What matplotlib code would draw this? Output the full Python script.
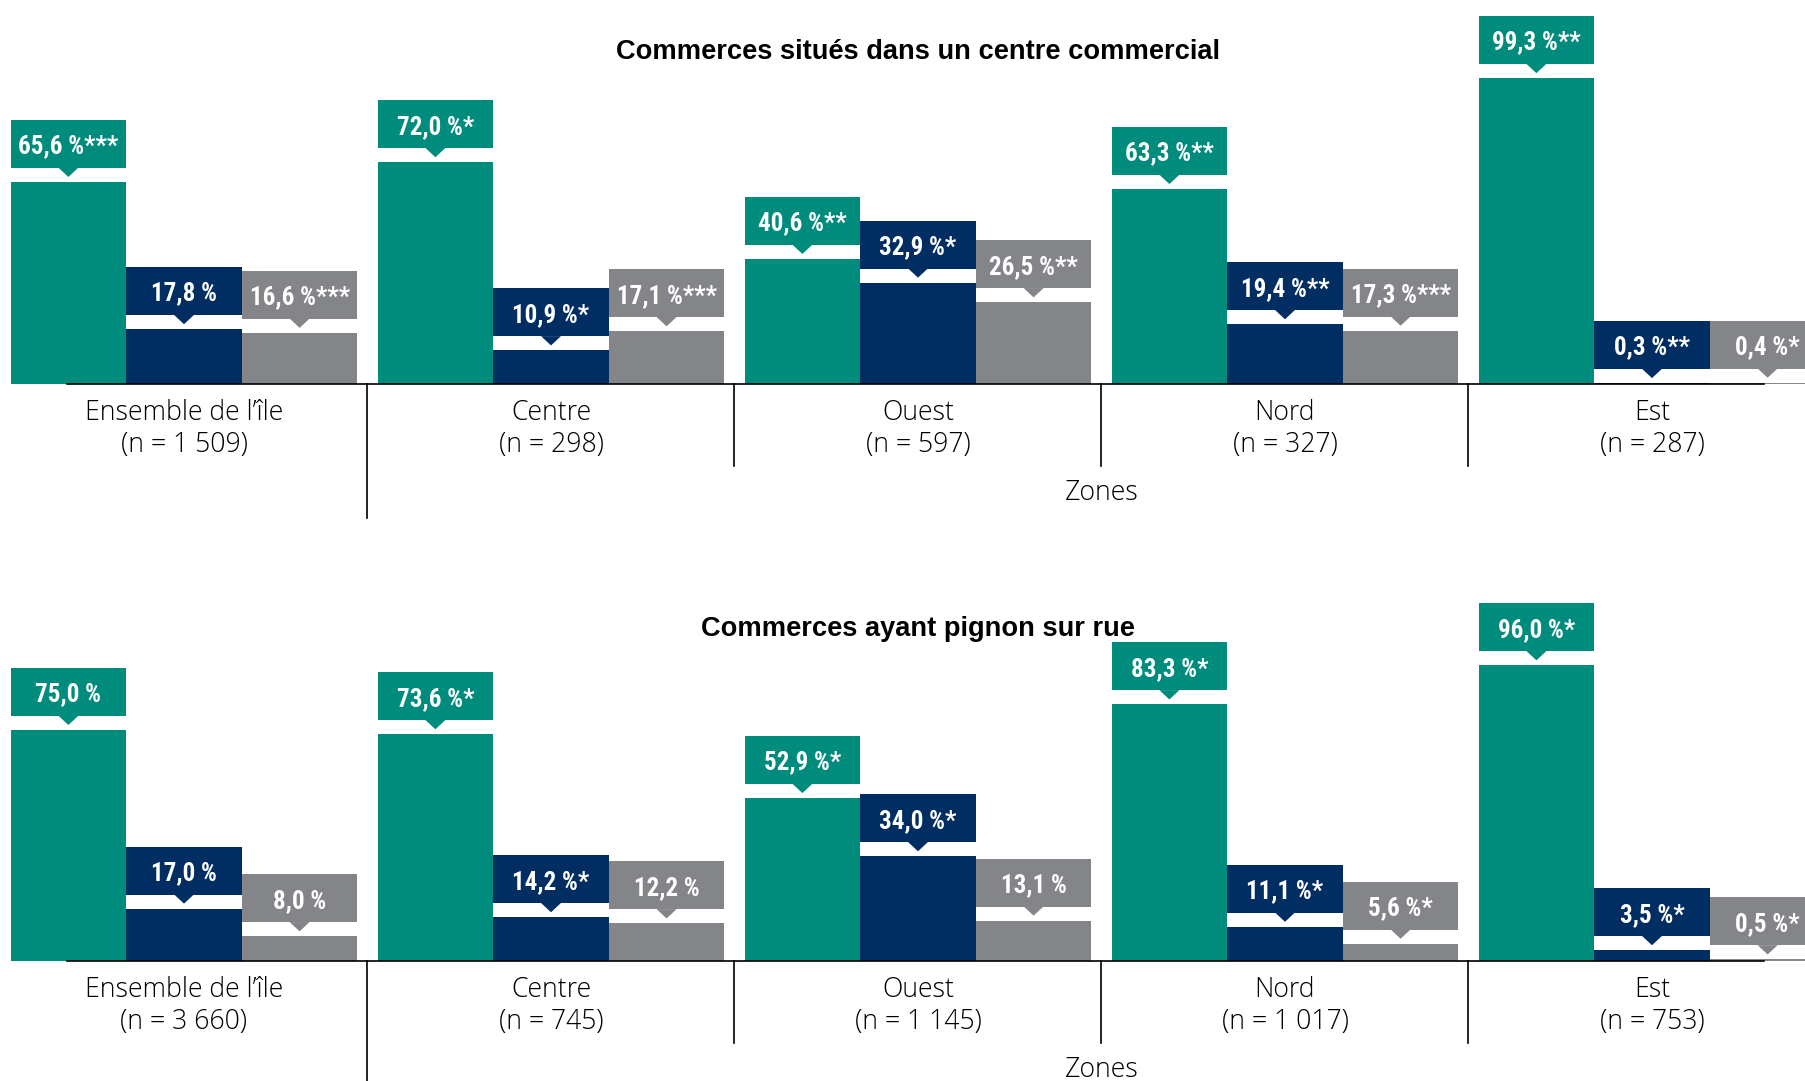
import numpy as np
import matplotlib
matplotlib.use('Agg')
import matplotlib.pyplot as plt
from matplotlib import font_manager
from matplotlib.patches import Rectangle, Polygon

# data
zones = ['Ensemble de l\u2019\u00eele', 'Centre', 'Ouest', 'Nord', 'Est']
colors = ['#008C7D', '#002D62', '#838589']

mall_title = 'Commerces situés dans un centre commercial'
mall_n = ['1 509', '298', '597', '327', '287']
mall_green = [65.6, 72.0, 40.6, 63.3, 99.3]
mall_navy = [17.8, 10.9, 32.9, 19.4, 0.3]
mall_grey = [16.6, 17.1, 26.5, 17.3, 0.4]
mall_stars = [['***', '*', '**', '**', '**'],
              ['', '*', '*', '**', '**'],
              ['***', '***', '**', '***', '*']]

street_title = 'Commerces ayant pignon sur rue'
street_n = ['3 660', '745', '1 145', '1 017', '753']
street_green = [75.0, 73.6, 52.9, 83.3, 96.0]
street_navy = [17.0, 14.2, 34.0, 11.1, 3.5]
street_grey = [8.0, 12.2, 13.1, 5.6, 0.5]
street_stars = [['', '*', '*', '*', '*'],
                ['', '*', '*', '*', '*'],
                ['', '', '', '*', '*']]

W, H = 1806, 1081
PX = 3.08          # pixels per percent
GROUP = 367.0      # pixels per group
X0 = 184.0         # pixel x of first group centre
bw = 0.315
offsets = [-0.315, 0.0, 0.315]


def pick(cands):
    names = set(f.name for f in font_manager.fontManager.ttflist)
    for c in cands:
        if c in names:
            return [c, 'DejaVu Sans']
    return ['DejaVu Sans']


label_font = pick(['Roboto Condensed', 'Archivo Narrow', 'PT Sans Narrow', 'Asap Condensed',
                   'Liberation Sans Narrow'])
title_font = pick(['Liberation Sans', 'Arimo', 'Roboto'])
cat_font = pick(['Open Sans', 'Roboto', 'Liberation Sans'])


def panel(ax, title, series, stars, n_list, last_sep_px):
    x = np.arange(len(zones))
    for k, vals in enumerate(series):
        ax.bar(x + offsets[k], vals, bw, color=colors[k], linewidth=0, zorder=2)
        # callout box with pointer above each bar
        for i, v in enumerate(vals):
            xc = x[i] + offsets[k]
            y0 = v + 14 / PX
            y1 = v + 62 / PX
            ax.add_patch(Rectangle((xc - bw / 2, y0), bw, y1 - y0, color=colors[k],
                                   lw=0, clip_on=False, zorder=3))
            hw = 10 / GROUP
            ax.add_patch(Polygon([[xc - hw, y0 + 0.1], [xc + hw, y0 + 0.1], [xc, v + 5 / PX]],
                                 closed=True, color=colors[k], lw=0, clip_on=False, zorder=3))
            txt = ('%.1f' % v).replace('.', ',') + ' %' + stars[k][i]
            ax.text(xc, (y0 + y1) / 2, txt, ha='center', va='center_baseline', color='white',
                    fontsize=18, fontweight='bold', family=label_font, zorder=4, clip_on=False)

    # baseline and separators
    ax.plot([-0.32, 4.305], [0, 0], color='black', lw=1.2, zorder=5, clip_on=False)
    for sx in [1.5, 2.5, 3.5]:
        ax.plot([sx, sx], [0, -82 / PX], color='black', lw=1.2, clip_on=False)
    ax.plot([0.5, 0.5], [0, -last_sep_px / PX], color='black', lw=1.2, clip_on=False)

    for i, z in enumerate(zones):
        ax.text(x[i], -36 / PX, z, ha='center', va='baseline', fontsize=19.2,
                fontweight='light', family=cat_font, color='black', clip_on=False)
        ax.text(x[i], -68 / PX, '(n = %s)' % n_list[i], ha='center', va='baseline',
                fontsize=19.2, fontweight='light', family=cat_font, color='black', clip_on=False)
    ax.text(2.5, -116 / PX, 'Zones', ha='center', va='baseline', fontsize=19.2,
            fontweight='light', family=cat_font, color='black', clip_on=False)

    ax.text(2.0, 332 / PX, title, ha='center', va='center', fontsize=19.6,
            fontweight='bold', family=title_font, clip_on=False)

    ax.set_xlim(-X0 / GROUP, (W - X0) / GROUP)
    ax.set_ylim(0, 100)
    ax.axis('off')


fig = plt.figure(figsize=(W / 100., H / 100.), dpi=100, facecolor='white')
ax_top = fig.add_axes([0, (H - 384) / H, 1, 100 * PX / H])
ax_bot = fig.add_axes([0, (H - 961) / H, 1, 100 * PX / H])

panel(ax_top, mall_title, [mall_green, mall_navy, mall_grey], mall_stars, mall_n, 134)
panel(ax_bot, street_title, [street_green, street_navy, street_grey], street_stars, street_n, 130)

fig.savefig('out.png', dpi=100, facecolor='white')
